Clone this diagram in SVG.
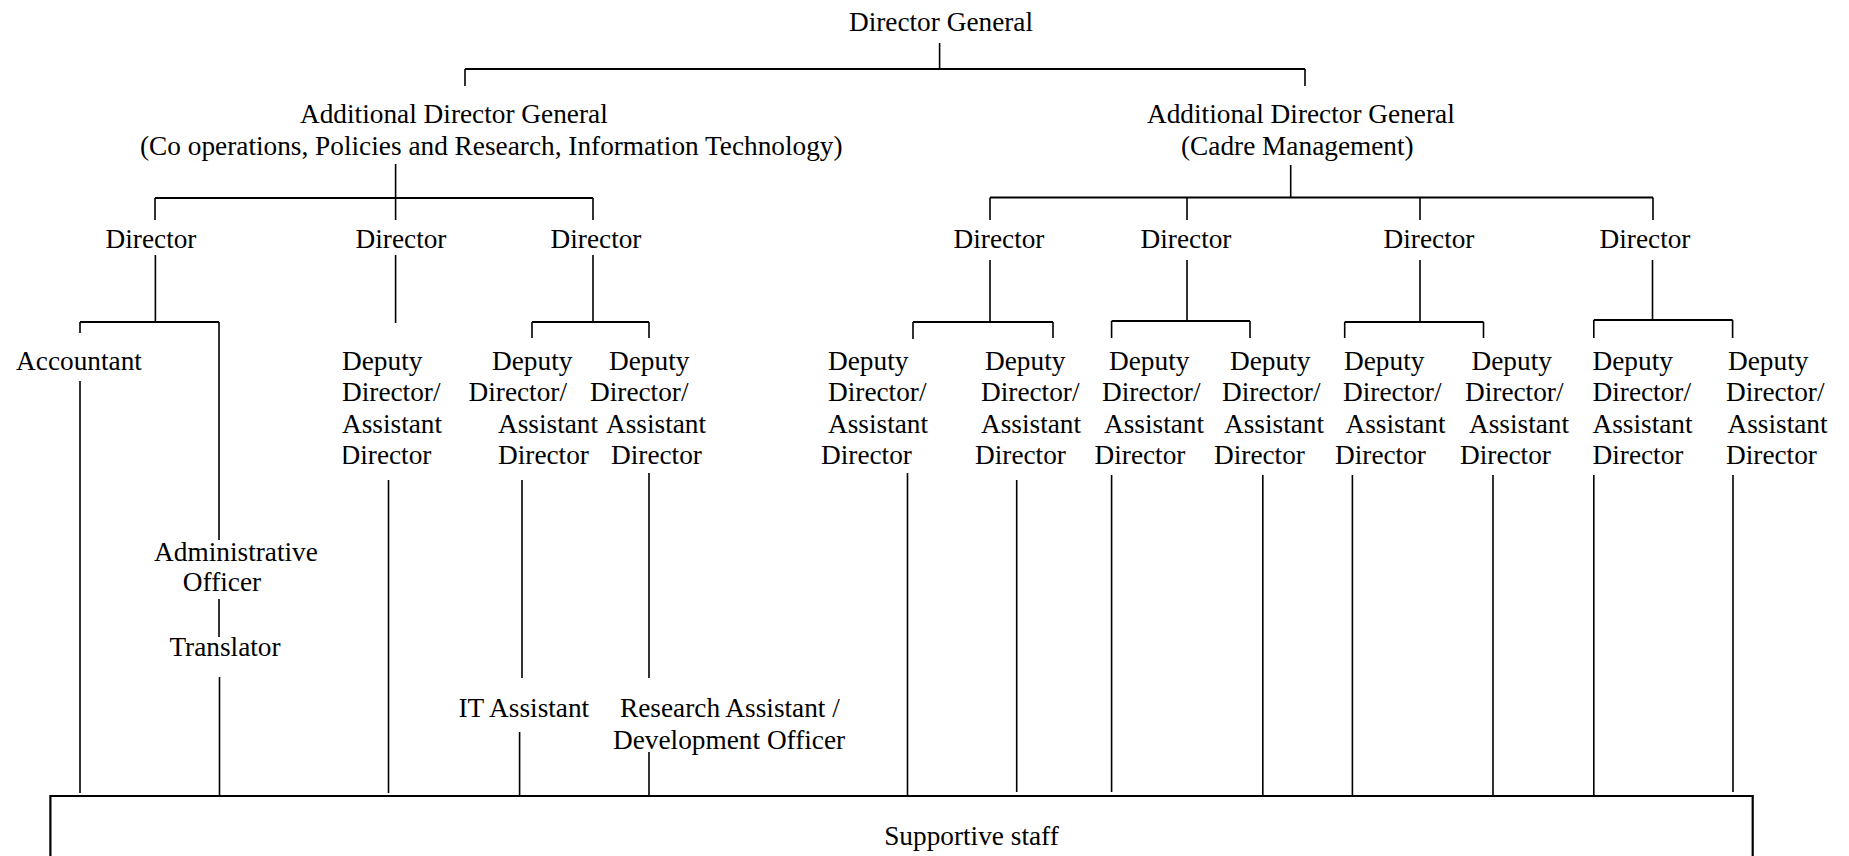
<svg xmlns="http://www.w3.org/2000/svg" width="1849" height="856" viewBox="0 0 1849 856">
<style>
text{font-family:"Liberation Serif","Times New Roman",serif;font-size:27.3px;fill:#000}
.m{text-anchor:middle}
.c path{fill:none;stroke:#000;stroke-width:1.6}
.c .b{stroke-width:2.2}
</style>
<defs><clipPath id="clipA"><rect x="343.5" y="440" width="120" height="40"/></clipPath></defs>
<rect width="1849" height="856" fill="#fff"/>
<g class="c" id="connectors">
<path d="M939.6,43V69M465,86V69M1305,86V69"/>
<path class="b" d="M465,69H1305"/>
<path d="M395.6,164V198M155,220V198M395.6,220V198M593,220V198"/>
<path class="b" d="M155,198H593"/>
<path d="M155.4,255V322M395.6,255V323M593,255V322"/>
<path class="b" d="M80,322H219M532,322H649"/>
<path d="M80,322V333M219,322V540M80,381V793M219,599V637M219.5,677V796M388.5,480V793"/>
<path d="M532,322V338M649,322V338M522,480V678M519.6,732V796M649,473V678M649,752V796"/>
<path d="M1290.7,165V197.5M990,220V197.5M1187,220V197.5M1420,220V197.5M1653,220V197.5"/>
<path class="b" d="M990,197.5H1653"/>
<path d="M990,260V322M1187,260V321M1420,260V322M1652.5,260V320"/>
<path class="b" d="M913,322H1053M1111.6,321H1250M1344.7,322H1483.5M1593.8,320H1732.6"/>
<path d="M913,322V339M1053,322V338M1111.6,321V338M1250,321V338M1344.7,322V338M1483.5,322V338M1593.8,320V338M1732.6,320V338"/>
<path d="M907.5,473V796M1016.7,480V792M1111.6,475V792M1262.8,475V796M1352.4,475V796M1493,475V796M1593.8,475V796M1733,475V792"/>
<path class="b" d="M50.4,856V796H1752.7V856"/>
</g>
<g id="director-general"><text class="m" x="941" y="31">Director General</text></g>
<g id="adg-left"><text x="300" y="123">Additional Director General</text><text x="140" y="155">(Co operations, Policies and Research, Information Technology)</text></g>
<g id="adg-right"><text x="1147" y="123">Additional Director General</text><text x="1181" y="155">(Cadre Management)</text></g>
<g id="dir-1"><text class="m" x="151" y="248">Director</text></g>
<g id="dir-2"><text class="m" x="401" y="248">Director</text></g>
<g id="dir-3"><text class="m" x="596" y="248">Director</text></g>
<g id="dir-4"><text class="m" x="999" y="248">Director</text></g>
<g id="dir-5"><text class="m" x="1186" y="248">Director</text></g>
<g id="dir-6"><text class="m" x="1429" y="248">Director</text></g>
<g id="dir-7"><text class="m" x="1645" y="248">Director</text></g>
<g id="accountant"><text class="m" x="79" y="370">Accountant</text></g>
<g id="admin-officer"><text class="m" x="236" y="561">Administrative</text><text class="m" x="222" y="591">Officer</text></g>
<g id="translator"><text class="m" x="225" y="656">Translator</text></g>
<g id="it-assistant"><text x="458.5" y="717">IT Assistant</text></g>
<g id="research-assistant"><text x="620" y="717">Research Assistant /</text><text x="613" y="749">Development Officer</text></g>
<g id="dd-a"><text x="342" y="370">Deputy</text><text x="342" y="401">Director/</text><text x="342" y="433">Assistant</text><text x="340.5" y="464" clip-path="url(#clipA)">Director</text></g>
<g id="dd-b"><text x="492" y="370">Deputy</text><text x="468.5" y="401">Director/</text><text x="498" y="433">Assistant</text><text x="498" y="464">Director</text></g>
<g id="dd-c"><text x="609" y="370">Deputy</text><text x="590" y="401">Director/</text><text x="606" y="433">Assistant</text><text x="611" y="464">Director</text></g>
<g id="dd-d"><text x="828" y="370">Deputy</text><text x="828" y="401">Director/</text><text x="828" y="433">Assistant</text><text x="821" y="464">Director</text></g>
<g id="dd-e"><text x="985" y="370">Deputy</text><text x="981" y="401">Director/</text><text x="981" y="433">Assistant</text><text x="975" y="464">Director</text></g>
<g id="dd-f"><text x="1109" y="370">Deputy</text><text x="1102" y="401">Director/</text><text x="1104" y="433">Assistant</text><text x="1094.5" y="464">Director</text></g>
<g id="dd-g"><text x="1230" y="370">Deputy</text><text x="1222" y="401">Director/</text><text x="1224" y="433">Assistant</text><text x="1214" y="464">Director</text></g>
<g id="dd-h"><text x="1344" y="370">Deputy</text><text x="1343" y="401">Director/</text><text x="1345.5" y="433">Assistant</text><text x="1335" y="464">Director</text></g>
<g id="dd-i"><text x="1471.5" y="370">Deputy</text><text x="1465" y="401">Director/</text><text x="1469" y="433">Assistant</text><text x="1460" y="464">Director</text></g>
<g id="dd-j"><text x="1592.5" y="370">Deputy</text><text x="1592.5" y="401">Director/</text><text x="1592.5" y="433">Assistant</text><text x="1592.5" y="464">Director</text></g>
<g id="dd-k"><text x="1728" y="370">Deputy</text><text x="1726" y="401">Director/</text><text x="1727.5" y="433">Assistant</text><text x="1726" y="464">Director</text></g>
<g id="supportive-staff"><text class="m" x="971.5" y="845">Supportive staff</text></g>
</svg>
